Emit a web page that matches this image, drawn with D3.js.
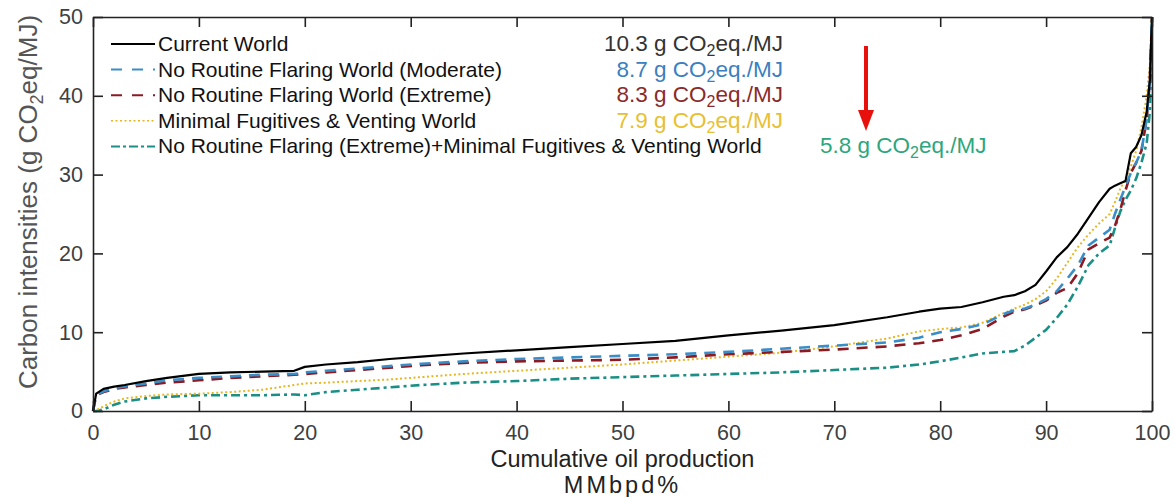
<!DOCTYPE html>
<html>
<head>
<meta charset="utf-8">
<script src="https://cdn.jsdelivr.net/npm/d3@7"></script>
<style>
  body { margin: 0; background: #fff; }
  svg text { font-family: "Liberation Sans", Arial, sans-serif; }
</style>
</head>
<body>
<div id="chart"></div>
<script>
var W = 1175, H = 497;
var margin = {top: 17, right: 23, bottom: 86, left: 93};

// cumulative oil production (%) shared by all curves
var production = [0, 0.3, 1, 2, 3, 5, 7, 10, 13, 16, 19, 20, 22, 25, 28, 31, 35, 40, 45, 50,
  55, 60, 65, 70, 75, 78, 80, 82, 84, 86, 87, 88, 89, 90, 91, 92, 93, 94, 95, 96,
  96.5, 97, 97.5, 98, 98.5, 99, 99.5, 99.8, 100];

var currentWorld = [0, 2.2, 2.8, 3.1, 3.3, 3.8, 4.2, 4.7, 4.9, 5.0, 5.1, 5.6, 5.9, 6.2, 6.6, 6.9, 7.3, 7.7, 8.1, 8.5,
  8.9, 9.6, 10.2, 10.9, 11.9, 12.6, 13.0, 13.2, 13.8, 14.5, 14.7, 15.2, 16.0, 17.7, 19.5, 20.8, 22.5, 24.5, 26.5, 28.2,
  28.6, 28.9, 29.2, 32.7, 33.5, 35, 38, 42, 50];
var flaringModerate = [0, 2.0, 2.5, 2.9, 3.1, 3.5, 3.9, 4.2, 4.4, 4.6, 4.7, 4.9, 5.1, 5.4, 5.7, 6.0, 6.3, 6.6, 6.8, 7.0,
  7.2, 7.5, 7.9, 8.3, 8.7, 9.3, 10.0, 10.4, 11.0, 12.3, 12.8, 13.0, 13.5, 14.2, 15.2, 16.8, 18.5, 21.0, 22.0, 23.0,
  25, 26.8, 28.5, 30.2, 31.5, 33, 37, 42, 50];
var flaringExtreme = [0, 2.0, 2.4, 2.8, 3.0, 3.3, 3.6, 3.9, 4.2, 4.4, 4.6, 4.7, 4.9, 5.2, 5.5, 5.8, 6.1, 6.3, 6.4, 6.5,
  6.8, 7.2, 7.5, 7.8, 8.2, 8.6, 9.0, 9.6, 10.4, 12.0, 12.6, 12.9, 13.4, 14.0, 15.0, 15.6, 17.5, 20.5, 21.3, 22.0,
  23.5, 25.5, 28, 30.2, 31.5, 33, 37, 42, 50];
var minimalFugitives = [0, 0.1, 0.6, 1.2, 1.6, 1.9, 2.1, 2.2, 2.4, 2.7, 3.3, 3.5, 3.6, 3.8, 4.0, 4.3, 4.7, 5.1, 5.5, 5.9,
  6.4, 6.9, 7.4, 8.2, 9.2, 10.1, 10.4, 10.6, 11.2, 12.4, 13.0, 13.5, 14.2, 15.2, 16.8, 18.8, 20.8, 22.4, 23.8, 25.0,
  26.5, 28.2, 29.5, 31, 33, 36, 40, 44, 50];
var combined = [0, 0, 0.2, 0.8, 1.2, 1.6, 1.8, 2.0, 2.0, 2.0, 2.1, 2.0, 2.4, 2.7, 3.0, 3.3, 3.6, 3.8, 4.1, 4.3,
  4.5, 4.7, 4.9, 5.2, 5.5, 5.9, 6.3, 6.8, 7.3, 7.5, 7.6, 8.3, 9.3, 10.3, 11.8, 13.5, 15.8, 18.5, 20.0, 21.0,
  23.2, 25.3, 26.8, 28.0, 29.5, 31.5, 34, 38, 50];

var seriesNames = ["Current World", "No Routine Flaring World (Moderate)", "No Routine Flaring World (Extreme)",
  "Minimal Fugitives & Venting World", "No Routine Flaring (Extreme)+Minimal Fugitives & Venting World"];
var seriesValues = [currentWorld, flaringModerate, flaringExtreme, minimalFugitives, combined];
var averages = ["10.3", "8.7", "8.3", "7.9", "5.8"];

var xTicks = [0, 10, 20, 30, 40, 50, 60, 70, 80, 90, 100];
var yTicks = [0, 10, 20, 30, 40, 50];

var lineColors = ["#000000", "#3a8ec8", "#8b1a22", "#e8b620", "#1b8f86"];
var textColors = ["#333333", "#3a80c0", "#8b2a2a", "#e8c030", "#2ea67c"];
var dashes = [null, "11,8", "11,8", "2,2.5", "9,4,3,4"];
var widths = [2.2, 2.6, 2.6, 2, 2.6];

var svg = d3.select("#chart").append("svg")
    .attr("width", W)
    .attr("height", H);

var x = d3.scaleLinear().domain([0, 100]).range([margin.left, W - margin.right]);
var y = d3.scaleLinear().domain([0, 50]).range([H - margin.bottom, margin.top]);

var line = d3.line()
    .x(function(d) { return x(d[0]); })
    .y(function(d) { return y(d[1]); });

var plot = svg.append("g");
// draw back to front so the black curve sits on top
[4, 3, 2, 1, 0].forEach(function(i) {
  var pts = production.map(function(p, j) { return [p, seriesValues[i][j]]; });
  plot.append("path")
      .datum(pts)
      .attr("fill", "none")
      .attr("stroke", lineColors[i])
      .attr("stroke-width", widths[i])
      .attr("stroke-dasharray", dashes[i])
      .attr("stroke-linejoin", "round")
      .attr("d", line);
});

// axes, matlab style box with inner ticks
function styleAxis(g) {
  g.select(".domain").attr("stroke", "#222").attr("stroke-width", 1.6);
  g.selectAll(".tick line").attr("stroke", "#222").attr("stroke-width", 1.6);
  g.selectAll(".tick text").attr("fill", "#404040").style("font-size", "21.5px");
}

svg.append("g")
    .attr("transform", "translate(0," + y(0) + ")")
    .call(d3.axisBottom(x).tickValues(xTicks).tickSizeInner(-10).tickSizeOuter(0).tickPadding(14))
    .call(styleAxis);

svg.append("g")
    .attr("transform", "translate(0," + y(50) + ")")
    .call(d3.axisTop(x).tickValues(xTicks).tickSizeInner(-10).tickSizeOuter(0).tickFormat(""))
    .call(styleAxis);

svg.append("g")
    .attr("transform", "translate(" + x(0) + ",0)")
    .call(d3.axisLeft(y).tickValues(yTicks).tickSizeInner(-10).tickSizeOuter(0).tickPadding(10))
    .call(styleAxis);

svg.append("g")
    .attr("transform", "translate(" + x(100) + ",0)")
    .call(d3.axisRight(y).tickValues(yTicks).tickSizeInner(-10).tickSizeOuter(0).tickFormat(""))
    .call(styleAxis);

// axis titles
var yTitle = svg.append("text")
    .attr("transform", "translate(37,202) rotate(-90)")
    .attr("text-anchor", "middle")
    .attr("fill", "#555")
    .style("font-size", "26px");
yTitle.append("tspan").text("Carbon intensities (g CO");
yTitle.append("tspan").attr("dy", 6).style("font-size", "18px").text("2");
yTitle.append("tspan").attr("dy", -6).text("eq/MJ)");

svg.append("text")
    .attr("x", x(50)).attr("y", 467)
    .attr("text-anchor", "middle")
    .attr("fill", "#222")
    .style("font-size", "23.5px")
    .text("Cumulative oil production");
svg.append("text")
    .attr("x", x(50)).attr("y", 493)
    .attr("text-anchor", "middle")
    .attr("fill", "#222")
    .style("font-size", "23.5px")
    .style("letter-spacing", "3px")
    .text("MMbpd%");

// legend
var legend = svg.append("g");
seriesNames.forEach(function(name, i) {
  var ly = 44 + i * 25.6;
  legend.append("line")
      .attr("x1", 111).attr("x2", 155)
      .attr("y1", ly).attr("y2", ly)
      .attr("stroke", lineColors[i])
      .attr("stroke-width", i == 3 ? 1.5 : 2)
      .attr("stroke-dasharray", i == 1 || i == 2 ? "11,10" : (i == 4 ? "9,3,3,3" : dashes[i]));
  legend.append("text")
      .attr("x", 158).attr("y", ly + 7)
      .attr("fill", "#111")
      .style("font-size", "21px")
      .text(name);

  var vt = legend.append("text")
      .attr("x", i == 4 ? 820 : 783)
      .attr("y", ly + 7)
      .attr("text-anchor", i == 4 ? "start" : "end")
      .attr("fill", textColors[i])
      .style("font-size", "22.5px");
  vt.append("tspan").text(averages[i] + " g CO");
  vt.append("tspan").attr("dy", 5).style("font-size", "16px").text("2");
  vt.append("tspan").attr("dy", -5).text("eq./MJ");
});

// red arrow pointing down to the combined scenario
svg.append("line")
    .attr("x1", 866).attr("x2", 866)
    .attr("y1", 46).attr("y2", 114)
    .attr("stroke", "#e8100c")
    .attr("stroke-width", 4);
svg.append("path")
    .attr("d", "M858,110 L874,110 L866,131 Z")
    .attr("fill", "#e8100c");
</script>
</body>
</html>
